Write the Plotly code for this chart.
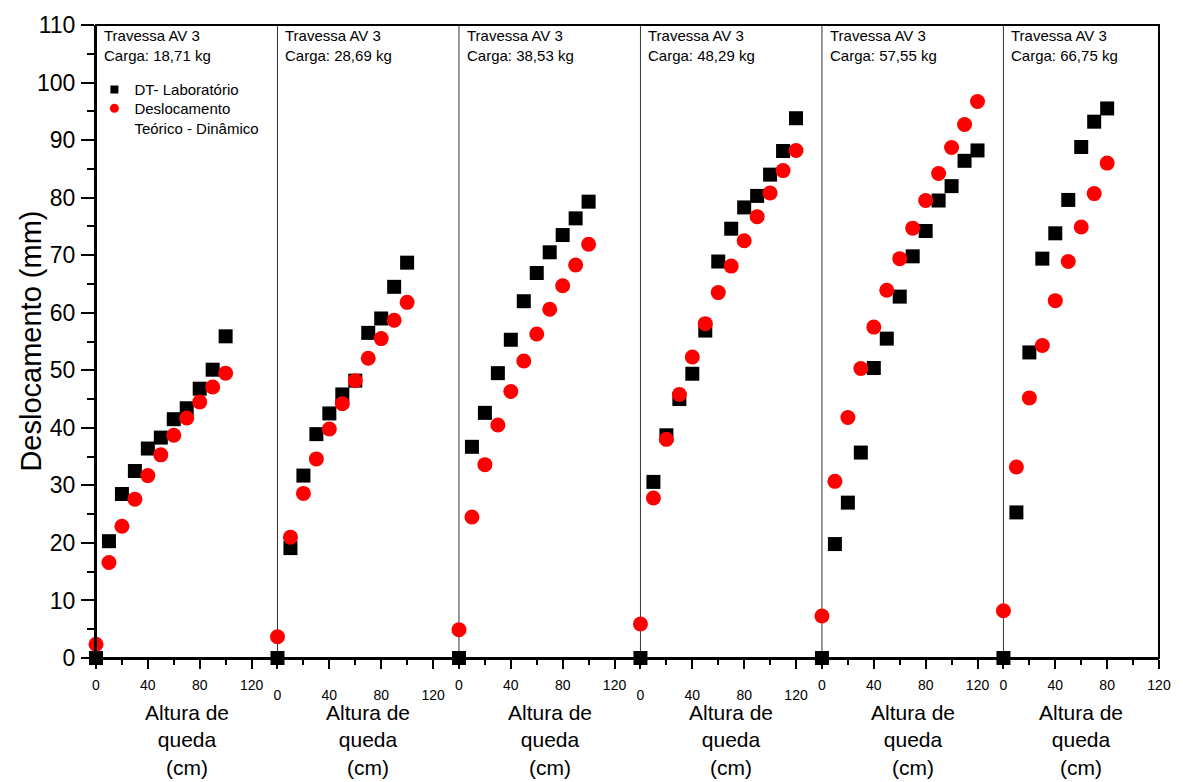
import plotly.graph_objects as go

# Drop height (cm) for each test panel
alturas_1 = [0, 10, 20, 30, 40, 50, 60, 70, 80, 90, 100]
alturas_2 = [0, 10, 20, 30, 40, 50, 60, 70, 80, 90, 100]
alturas_3 = [0, 10, 20, 30, 40, 50, 60, 70, 80, 90, 100]
alturas_4 = [0, 10, 20, 30, 40, 50, 60, 70, 80, 90, 100, 110, 120]
alturas_5 = [0, 10, 20, 30, 40, 50, 60, 70, 80, 90, 100, 110, 120]
alturas_6 = [0, 10, 20, 30, 40, 50, 60, 70, 80]

# Measured displacement (mm) - DT laboratory
lab_1 = [0, 20.3, 28.5, 32.5, 36.4, 38.3, 41.5, 43.4, 46.8, 50.1, 55.9]
lab_2 = [0, 19.1, 31.7, 38.9, 42.5, 45.8, 48.2, 56.5, 59.0, 64.5, 68.7]
lab_3 = [0, 36.7, 42.6, 49.5, 55.3, 62.0, 66.9, 70.5, 73.5, 76.4, 79.3]
lab_4 = [0, 30.6, 38.7, 45.0, 49.4, 56.9, 68.9, 74.6, 78.3, 80.3, 84.0, 88.1, 93.8]
lab_5 = [0, 19.8, 27.0, 35.7, 50.4, 55.5, 62.8, 69.8, 74.2, 79.5, 82.0, 86.4, 88.2]
lab_6 = [0, 25.3, 53.1, 69.4, 73.8, 79.6, 88.8, 93.2, 95.5]

# Theoretical dynamic displacement (mm)
teo_1 = [2.4, 16.6, 22.9, 27.6, 31.7, 35.3, 38.7, 41.7, 44.5, 47.1, 49.5]
teo_2 = [3.7, 21.0, 28.6, 34.6, 39.8, 44.2, 48.2, 52.1, 55.5, 58.7, 61.8]
teo_3 = [4.9, 24.5, 33.6, 40.5, 46.3, 51.6, 56.3, 60.6, 64.7, 68.3, 71.9]
teo_4 = [5.9, 27.8, 38.0, 45.8, 52.3, 58.1, 63.5, 68.1, 72.5, 76.7, 80.8, 84.7, 88.2]
teo_5 = [7.3, 30.7, 41.8, 50.3, 57.5, 63.9, 69.4, 74.7, 79.5, 84.2, 88.7, 92.7, 96.7]
teo_6 = [8.2, 33.2, 45.2, 54.3, 62.1, 68.9, 74.9, 80.7, 86.0]

cargas = ["18,71", "28,69", "38,53", "48,29", "57,55", "66,75"]
x_max = [140, 140, 140, 140, 140, 120]
x_ticks = [0, 40, 80, 120]
y_ticks = list(range(0, 111, 10))

alturas = [alturas_1, alturas_2, alturas_3, alturas_4, alturas_5, alturas_6]
labs = [lab_1, lab_2, lab_3, lab_4, lab_5, lab_6]
teos = [teo_1, teo_2, teo_3, teo_4, teo_5, teo_6]

FONT = "Arial, Liberation Sans, sans-serif"
fig = go.Figure()

total = sum(x_max)
start = 0
layout_axes = {}
annotations = []
shapes = []
for i in range(6):
    n = "" if i == 0 else str(i + 1)
    dom = [start / total, (start + x_max[i]) / total]
    start += x_max[i]
    shifted = i in (1, 3)
    layout_axes["xaxis" + n] = dict(
        domain=dom, range=[0, x_max[i]], anchor="y",
        tickvals=x_ticks, ticks="outside", ticklen=9, tickwidth=2,
        tickcolor="black", showline=True, linewidth=2, linecolor="black",
        showgrid=False, zeroline=False,
        tickfont=dict(family=FONT, size=14, color="black"),
        ticklabelstandoff=14 if shifted else 4,
        minor=dict(tickvals=[20, 60, 100], ticks="outside", ticklen=5,
                   tickwidth=2, tickcolor="black"),
    )
    xa = "x" + n
    fig.add_trace(go.Scatter(
        x=alturas[i], y=labs[i], xaxis=xa, yaxis="y", mode="markers",
        marker=dict(symbol="square", size=14, color="black"),
        cliponaxis=False, showlegend=False, name="DT- Laboratório"))
    fig.add_trace(go.Scatter(
        x=alturas[i], y=teos[i], xaxis=xa, yaxis="y", mode="markers",
        marker=dict(symbol="circle", size=15, color="#ff0000"),
        cliponaxis=False, showlegend=False,
        name="Deslocamento Teórico - Dinâmico"))
    annotations.append(dict(
        text=f"Travessa AV 3<br>Carga: {cargas[i]} kg",
        xref=xa + " domain", yref="paper", x=0, y=1, xanchor="left",
        yanchor="top", xshift=6, yshift=0, showarrow=False, align="left",
        font=dict(family=FONT, size=15, color="black")))
    annotations.append(dict(
        text="Altura de<br>queda<br>(cm)",
        xref=xa + " domain", yref="paper", x=0.5, y=0, xanchor="center",
        yanchor="top", yshift=-41, showarrow=False, align="center",
        font=dict(family=FONT, size=21, color="black")))
    if i > 0:
        shapes.append(dict(type="line", xref=xa + " domain", yref="paper",
                           x0=0, x1=0, y0=0, y1=1,
                           line=dict(color="#333333", width=1), layer="below"))

# legend entries, one legend box per entry
fig.add_trace(go.Scatter(x=[None], y=[None], mode="markers", name="DT- Laboratório",
                         legend="legend",
                         marker=dict(symbol="square", size=8, color="black")))
fig.add_trace(go.Scatter(x=[None], y=[None], mode="markers",
                         name="Deslocamento<br>Teórico - Dinâmico",
                         legend="legend2",
                         marker=dict(symbol="circle", size=9, color="#ff0000")))

shapes.append(dict(type="rect", xref="paper", yref="paper", x0=0, x1=1, y0=0, y1=1,
                   line=dict(color="black", width=2), layer="above"))

annotations.append(dict(
    text="Deslocamento (mm)", xref="paper", yref="paper", x=-0.062, y=0.5,
    textangle=-90, showarrow=False, xanchor="center", yanchor="middle",
    font=dict(family=FONT, size=29, color="black")))

legend_style = dict(xanchor="left", yanchor="top", bgcolor="rgba(0,0,0,0)",
                    borderwidth=0, valign="top",
                    font=dict(family=FONT, size=15, color="black"))

fig.update_layout(
    width=1183, height=782,
    margin=dict(l=96, r=23, t=17, b=124),
    paper_bgcolor="white", plot_bgcolor="white",
    yaxis=dict(range=[0, 110], tickvals=y_ticks, ticks="outside", ticklen=13,
               tickwidth=2, tickcolor="black", showline=True, linewidth=2,
               linecolor="black", showgrid=False, zeroline=False,
               tickfont=dict(family=FONT, size=23, color="black"),
               ticklabelstandoff=1,
               minor=dict(dtick=5, ticks="outside", ticklen=7, tickwidth=2,
                          tickcolor="black")),
    legend=dict(x=-0.0015, y=0.9236, **legend_style),
    legend2=dict(x=-0.0015, y=0.894, **legend_style),
    annotations=annotations, shapes=shapes,
    **layout_axes,
)

fig.write_html("out.html")
